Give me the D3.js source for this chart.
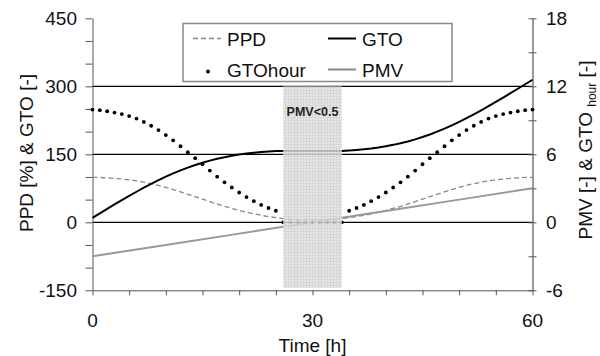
<!DOCTYPE html>
<html>
<head>
<meta charset="utf-8">
<script src="https://cdn.jsdelivr.net/npm/d3@7"></script>
<style>
  body { margin: 0; background: #fff; }
  svg { font-family: "Liberation Sans", Arial, sans-serif; }
</style>
</head>
<body>
<svg id="chart" width="600" height="356"></svg>
<script>
// hourly values, t = 0..60 h
const hours = d3.range(0, 61);
const gtoHour = [9.95, 9.89, 9.8, 9.68, 9.55, 9.37, 9.15, 8.86, 8.52, 8.14, 7.7, 7.23, 6.71, 6.18, 5.66, 5.12,
    4.56, 4.03, 3.53, 3.07, 2.63, 2.23, 1.86, 1.53, 1.26, 1.02, 0, 0, 0, 0, 0, 0, 0, 0, 0,
    1.02, 1.26, 1.53, 1.86, 2.23, 2.63, 3.07, 3.53, 4.03, 4.56, 5.12, 5.66, 6.18, 6.71, 7.23, 7.7,
    8.14, 8.52, 8.86, 9.15, 9.37, 9.55, 9.68, 9.8, 9.89, 9.95];
const gto = [9.95, 19.84, 29.64, 39.32, 48.87, 58.24, 67.39, 76.25, 84.77, 92.91, 100.61, 107.84, 114.55,
    120.73, 126.39, 131.51, 136.07, 140.1, 143.63, 146.7, 149.33, 151.56, 153.42, 154.95, 156.21, 157.23,
    157.23, 157.23, 157.23, 157.23, 157.23, 157.23, 157.23, 157.23, 157.23,
    158.25, 159.51, 161.04, 162.9, 165.13, 167.76, 170.83, 174.36, 178.39, 182.95, 188.07, 193.73, 199.91,
    206.62, 213.85, 221.55, 229.69, 238.21, 247.07, 256.22, 265.59, 275.14, 284.82, 294.62, 304.51, 314.46];
const ppd = [99.1, 98.9, 98.0, 96.8, 95.5, 93.7, 91.5, 88.6, 85.2, 81.4, 77.0, 72.3, 67.1, 61.8, 56.6, 51.2,
    45.6, 40.3, 35.3, 30.7, 26.3, 22.3, 18.6, 15.3, 12.6, 10.2, 8.3, 6.9, 5.8, 5.2, 5.0,
    5.2, 5.8, 6.9, 8.3, 10.2, 12.6, 15.3, 18.6, 22.3, 26.3, 30.7, 35.3, 40.3, 45.6, 51.2,
    56.6, 61.8, 67.1, 72.3, 77.0, 81.4, 85.2, 88.6, 91.5, 93.7, 95.5, 96.8, 98.0, 98.9, 99.1];
const pmvTime = [0, 10, 20, 30, 40, 50, 60];
const pmv = [-3, -2, -1, 0, 1, 2, 3];

const comfortSpan = [26, 34];        // PMV<0.5 band (h)
const comfortLevels = [-145, 300];   // band height, left axis units

const xTickLabels = [0, 30, 60];
const leftTickLabels = [-150, 0, 150, 300, 450];
const rightTickLabels = [-6, 0, 6, 12, 18];
const gridLevels = [0, 150, 300];

const svg = d3.select("#chart");
const plotLeft = 92.5, plotRight = 532.5, plotTop = 18.3, plotBottom = 290.3;

const x = d3.scaleLinear().domain([0, 60]).range([plotLeft, plotRight]);
const yL = d3.scaleLinear().domain([-150, 450]).range([plotBottom, plotTop]);
const yR = d3.scaleLinear().domain([-6, 18]).range([plotBottom, plotTop]);

// shading pattern
const defs = svg.append("defs");
const pat = defs.append("pattern").attr("id", "hatch")
    .attr("width", 3).attr("height", 3).attr("patternUnits", "userSpaceOnUse");
pat.append("rect").attr("width", 3).attr("height", 3).attr("fill", "#e2e2e2");
pat.append("path").attr("d", "M0,0.5H3M0.5,0V3").attr("stroke", "#cfcfcf").attr("stroke-width", 1);

// grid lines
svg.append("g").selectAll("line").data(gridLevels).enter().append("line")
    .attr("x1", plotLeft).attr("x2", plotRight)
    .attr("y1", d => yL(d)).attr("y2", d => yL(d))
    .attr("stroke", "#000").attr("stroke-width", 1.2);

// axes
const leftAxis = svg.append("g").attr("transform", `translate(${plotLeft},0)`)
    .call(d3.axisLeft(yL).tickValues(d3.range(-150, 451, 50)).tickFormat("").tickSize(7).tickSizeOuter(0));
const rightAxis = svg.append("g").attr("transform", `translate(${plotRight},0)`)
    .call(d3.axisRight(yR).tickValues(d3.range(-6, 19, 3)).tickFormat("").tickSize(4).tickSizeOuter(0));
rightAxis.selectAll(".tick line").attr("x1", -4);
const bottomAxis = svg.append("g").attr("transform", `translate(0,${plotBottom})`)
    .call(d3.axisBottom(x).tickValues(d3.range(0, 61, 5)).tickFormat("").tickSize(5).tickSizeOuter(0));

leftAxis.selectAll("path, line").attr("stroke", "#555");
bottomAxis.selectAll("path, line").attr("stroke", "#555");
rightAxis.selectAll("line").attr("stroke", "#555");
rightAxis.select("path").attr("stroke", "#999").attr("stroke-width", 2);

// tick labels
svg.append("g").selectAll("text").data(leftTickLabels).enter().append("text")
    .attr("x", 77).attr("y", d => yL(d) + 7)
    .attr("text-anchor", "end").attr("font-size", 19).attr("fill", "#111").text(d => d);
svg.append("g").selectAll("text").data(rightTickLabels).enter().append("text")
    .attr("x", 546).attr("y", d => yR(d) + 7)
    .attr("text-anchor", "start").attr("font-size", 19).attr("fill", "#111").text(d => d);
svg.append("g").selectAll("text").data(xTickLabels).enter().append("text")
    .attr("x", d => x(d)).attr("y", 327)
    .attr("text-anchor", "middle").attr("font-size", 19).attr("fill", "#111").text(d => d);

// axis titles
svg.append("text").attr("transform", "translate(33,153) rotate(-90)")
    .attr("text-anchor", "middle").attr("font-size", 19).attr("fill", "#111")
    .text("PPD [%] & GTO [-]");
const rt = svg.append("text").attr("transform", "translate(592,150) rotate(-90)")
    .attr("text-anchor", "middle").attr("font-size", 19).attr("fill", "#111");
rt.append("tspan").text("PMV [-] & GTO ");
rt.append("tspan").attr("font-size", 12).attr("dy", 4).text("hour");
rt.append("tspan").attr("dy", -4).text(" [-]");
svg.append("text").attr("x", x(30)).attr("y", 352)
    .attr("text-anchor", "middle").attr("font-size", 19).attr("fill", "#111").text("Time [h]");

// series
const lineL = d3.line().x((d, i) => x(hours[i])).y(d => yL(d));
svg.append("path").datum(ppd).attr("d", lineL)
    .attr("fill", "none").attr("stroke", "#888").attr("stroke-width", 1.3).attr("stroke-dasharray", "5,3");
svg.append("path").datum(gto).attr("d", lineL)
    .attr("fill", "none").attr("stroke", "#000").attr("stroke-width", 2);
svg.append("path").datum(pmv)
    .attr("d", d3.line().x((d, i) => x(pmvTime[i])).y(d => yR(d)))
    .attr("fill", "none").attr("stroke", "#999").attr("stroke-width", 2);
svg.append("g").selectAll("circle").data(gtoHour).enter().append("circle")
    .attr("cx", (d, i) => x(hours[i])).attr("cy", d => yR(d))
    .attr("r", 1.9).attr("fill", "#000");

// comfort band drawn on top
svg.append("rect")
    .attr("x", x(comfortSpan[0])).attr("width", x(comfortSpan[1]) - x(comfortSpan[0]))
    .attr("y", yL(comfortLevels[1])).attr("height", yL(comfortLevels[0]) - yL(comfortLevels[1]))
    .attr("fill", "url(#hatch)").attr("opacity", 0.85);
svg.append("text").attr("x", x(30)).attr("y", 116)
    .attr("text-anchor", "middle").attr("font-size", 12.5).attr("font-weight", "bold").attr("fill", "#222")
    .text("PMV<0.5");

// legend
const lg = svg.append("g");
lg.append("rect").attr("x", 183).attr("y", 23.5).attr("width", 269).attr("height", 58)
    .attr("fill", "#fff").attr("stroke", "#888").attr("stroke-width", 1.5);
const legendItems = [
    { name: "PPD", col: 0, row: 0, type: "dash" },
    { name: "GTO", col: 1, row: 0, type: "black" },
    { name: "GTOhour", col: 0, row: 1, type: "dot" },
    { name: "PMV", col: 1, row: 1, type: "gray" }
];
legendItems.forEach(it => {
    const lx = 193 + it.col * 135, ly = 38.5 + it.row * 31;
    if (it.type === "dot") {
        lg.append("circle").attr("cx", lx + 15).attr("cy", ly + 2).attr("r", 1.9).attr("fill", "#000");
    } else {
        lg.append("line").attr("x1", lx).attr("x2", lx + 28).attr("y1", ly).attr("y2", ly)
            .attr("stroke", it.type === "black" ? "#000" : "#888")
            .attr("stroke-width", it.type === "dash" ? 1.3 : 2)
            .attr("stroke-dasharray", it.type === "dash" ? "5,3" : null);
    }
    lg.append("text").attr("x", lx + 34).attr("y", ly + 7).attr("font-size", 19).attr("fill", "#111").text(it.name);
});
</script>
</body>
</html>
